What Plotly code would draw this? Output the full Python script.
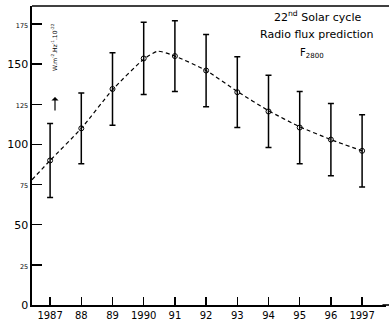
import plotly.graph_objects as go

# ---- data ----
years = [1987, 1988, 1989, 1990, 1991, 1992, 1993, 1994, 1995, 1996, 1997]
flux = [90, 110, 134.5, 153.5, 155, 146, 132.5, 120.5, 110.5, 103, 96]
flux_err = [23, 22, 22.5, 22.5, 22, 22.5, 22, 22.5, 22.5, 22.5, 22.5]

curve_years = [1986.42, 1987, 1988, 1989, 1990, 1990.45, 1991, 1992, 1993, 1994, 1995, 1996, 1997]
curve_flux = [78, 90, 110, 134, 153, 158, 155, 146, 133, 121, 111, 103, 96]

x_tick_vals = [1987, 1988, 1989, 1990, 1991, 1992, 1993, 1994, 1995, 1996, 1997]
x_tick_text = ["1987", "88", "89", "1990", "91", "92", "93", "94", "95", "96", "1997"]
y_tick_vals = [0, 25, 50, 75, 100, 125, 150, 175]
y_tick_big = [True, False, True, False, True, False, True, False]

W, H = 389, 322
ML, MR, MT, MB = 32, 3, 6, 17
PW, PH = W - ML - MR, H - MT - MB


def px(xpix):
    return (xpix - ML) / PW


def py(ypix):
    return (H - MB - ypix) / PH


y_tick_text = [
    (f'<span style="font-size:11px">{v}</span>' if big else f'<span style="font-size:6.5px">{v}</span>')
    for v, big in zip(y_tick_vals, y_tick_big)
]

fig = go.Figure()
fig.add_trace(go.Scatter(
    x=curve_years, y=curve_flux, mode="lines",
    line=dict(color="black", width=1.2, dash="4px,3px", shape="spline", smoothing=0.6),
    hoverinfo="skip", showlegend=False,
))
fig.add_trace(go.Scatter(
    x=years, y=flux, mode="markers",
    marker=dict(symbol="circle-open", size=5, color="black", line=dict(width=1)),
    error_y=dict(type="data", array=flux_err, visible=True, color="black", thickness=1.5, width=3),
    showlegend=False,
))

font_family = "DejaVu Sans"
fig.update_layout(
    width=W, height=H,
    margin=dict(l=ML, r=MR, t=MT, b=MB),
    paper_bgcolor="white", plot_bgcolor="white",
    font=dict(family=font_family, color="black"),
    dragmode=False,
    xaxis=dict(
        range=[1986.42, 1986.42 + PW / 31.2],
        tickmode="array", tickvals=x_tick_vals, ticktext=x_tick_text,
        ticks="inside", ticklen=8, tickwidth=1.5, tickcolor="black",
        showline=True, linecolor="black", linewidth=1.6, mirror=False,
        showgrid=False, zeroline=False, automargin=False,
        tickfont=dict(size=10, family=font_family),
    ),
    yaxis=dict(
        range=[0, PH / 1.606],
        tickmode="array", tickvals=y_tick_vals, ticktext=y_tick_text,
        ticks="inside", ticklen=10, tickwidth=1.5, tickcolor="black",
        showline=True, linecolor="black", linewidth=1.6,
        showgrid=False, zeroline=False, automargin=False,
        tickfont=dict(size=11, family=font_family),
    ),
)

# top border of the frame, and bottom axis line continued to the page edge
x_edge = (W - ML) / PW
fig.add_shape(type="line", xref="paper", yref="paper", x0=0, x1=x_edge, y0=1, y1=1,
              line=dict(color="black", width=1.6))
fig.add_shape(type="line", xref="paper", yref="paper", x0=0.99, x1=x_edge, y0=0, y1=0,
              line=dict(color="black", width=1.6))

fig.add_annotation(xref="paper", yref="paper", x=px(317), y=py(17),
                   xanchor="center", yanchor="middle",
                   text="22<sup>nd</sup> Solar cycle", showarrow=False,
                   font=dict(size=11, family=font_family))
fig.add_annotation(xref="paper", yref="paper", x=px(317), y=py(34),
                   xanchor="center", yanchor="middle",
                   text="Radio flux prediction", showarrow=False,
                   font=dict(size=11, family=font_family))
fig.add_annotation(xref="paper", yref="paper", x=px(312), y=py(53),
                   xanchor="center", yanchor="middle",
                   text="F<sub>2800</sub>", showarrow=False,
                   font=dict(size=10, family=font_family))
fig.add_annotation(xref="paper", yref="paper", x=px(54), y=py(47),
                   xanchor="center", yanchor="middle",
                   text="W.m<sup>-2</sup>.Hz<sup>-1</sup>.10<sup>-22</sup>", textangle=-90,
                   showarrow=False,
                   font=dict(size=6, family=font_family))
fig.add_annotation(xref="paper", yref="paper", x=px(55), y=py(97), ax=0, ay=15,
                   text="", showarrow=True, arrowhead=1, arrowsize=1, arrowwidth=1.2,
                   arrowcolor="black")

fig.write_html("out.html", config={"staticPlot": True, "displayModeBar": False})
